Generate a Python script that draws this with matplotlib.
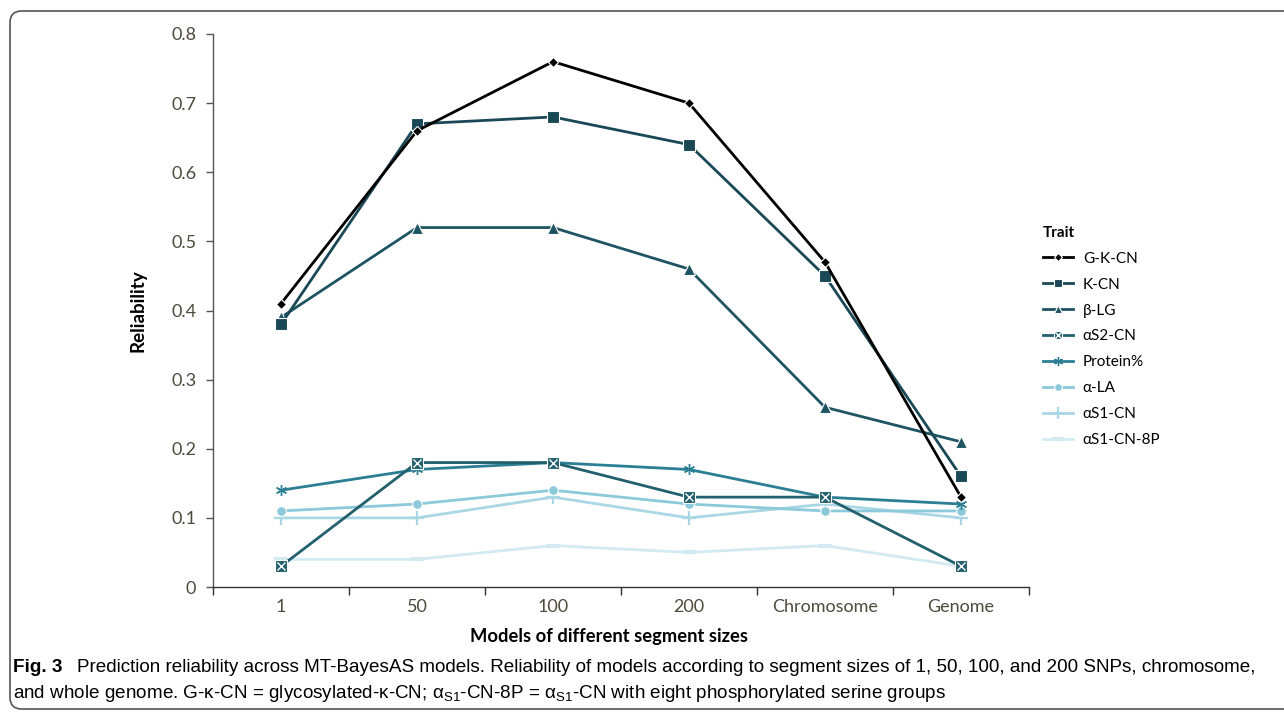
import matplotlib
matplotlib.use("Agg")
import matplotlib.pyplot as plt
from matplotlib.patches import FancyBboxPatch
from matplotlib.legend_handler import HandlerTuple

# Categories on the x axis
MODELS = ["1", "50", "100", "200", "Chromosome", "Genome"]

# Reliability for each trait
G_K_CN = [0.41, 0.66, 0.76, 0.70, 0.47, 0.13]
K_CN = [0.38, 0.67, 0.68, 0.64, 0.45, 0.16]
B_LG = [0.39, 0.52, 0.52, 0.46, 0.26, 0.21]
AS2_CN = [0.03, 0.18, 0.18, 0.13, 0.13, 0.03]
PROTEIN = [0.14, 0.17, 0.18, 0.17, 0.13, 0.12]
A_LA = [0.11, 0.12, 0.14, 0.12, 0.11, 0.11]
AS1_CN = [0.10, 0.10, 0.13, 0.10, 0.12, 0.10]
AS1_CN_8P = [0.04, 0.04, 0.06, 0.05, 0.06, 0.03]

Y_TICKS = [0, 0.1, 0.2, 0.3, 0.4, 0.5, 0.6, 0.7, 0.8]
Y_TICK_LABELS = ["0", "0.1", "0.2", "0.3", "0.4", "0.5", "0.6", "0.7", "0.8"]

TICK_COLOR = "#4f4a3c"
FONT = ["Lato", "DejaVu Sans"]
CAPTION_FONT = ["Liberation Sans", "DejaVu Sans"]

plt.rcParams["font.family"] = FONT

fig = plt.figure(figsize=(12.84, 7.13), dpi=100)
ax = fig.add_axes([213 / 1284, 1 - 587 / 713, (1029 - 213) / 1284, (587 - 34) / 713])

x = list(range(len(MODELS)))
lw = 2.0

line_gk, = ax.plot(x, G_K_CN, color="#000000", lw=lw, marker="D", ms=5.5,
                   mec="white", mew=0.8, zorder=10)
line_k, = ax.plot(x, K_CN, color="#1a4856", lw=lw, marker="s", ms=8,
                  mec="white", mew=0.8, zorder=9)
line_b, = ax.plot(x, B_LG, color="#1f5563", lw=lw, marker="^", ms=8,
                  mec="white", mew=0.8, zorder=8)
line_s2, = ax.plot(x, AS2_CN, color="#22606d", lw=lw, marker="s", ms=8,
                   mec="white", mew=0.8, zorder=7)
cross_s2, = ax.plot(x, AS2_CN, ls="none", marker="x", ms=6, mec="white",
                    mew=1.0, zorder=7.5)
line_p, = ax.plot(x, PROTEIN, color="#2c7e94", lw=lw, marker=(6, 2, 0), ms=8,
                  mec="#2c7e94", mew=1.0, zorder=6)
line_la, = ax.plot(x, A_LA, color="#8cc9da", lw=lw, marker="o", ms=7,
                   mec="white", mew=0.8, zorder=5)
line_s1, = ax.plot(x, AS1_CN, color="#aad7e5", lw=lw, marker="+", ms=10,
                   mec="#aad7e5", mew=1.6, zorder=4)
line_s1p, = ax.plot(x, AS1_CN_8P, color="#d3eaf2", lw=lw, marker="_", ms=10,
                    mec="#d3eaf2", mew=3.0, zorder=3)

ax.set_xlim(-0.5, len(MODELS) - 0.5)
ax.set_ylim(0, 0.8)
ax.set_yticks(Y_TICKS)
ax.set_yticklabels(Y_TICK_LABELS)

# boundary ticks between categories, labels at the category centres
ax.set_xticks([i - 0.5 for i in range(len(MODELS) + 1)])
ax.set_xticklabels([])
ax.set_xticks(x, minor=True)
ax.set_xticklabels(MODELS, minor=True)
ax.tick_params(axis="x", which="minor", length=0, pad=9)
ax.tick_params(axis="x", which="major", length=6, width=1.0, color="#333333")
ax.tick_params(axis="y", length=5, width=1.0, color="#555555", pad=7)
ax.tick_params(axis="both", which="both", labelsize=13, labelcolor=TICK_COLOR)

for side in ["top", "right"]:
    ax.spines[side].set_visible(False)
ax.spines["left"].set_color("#555555")
ax.spines["bottom"].set_color("#333333")
ax.spines["left"].set_linewidth(1.0)
ax.spines["bottom"].set_linewidth(1.0)

ax.set_ylabel("Reliability", fontsize=13.5, fontweight="bold", labelpad=18)
ax.set_xlabel("Models of different segment sizes", fontsize=13.2,
              fontweight="bold", labelpad=9)
ax.xaxis.set_label_coords(0.485, -0.075)

handles = [line_gk, line_k, line_b, (line_s2, cross_s2), line_p, line_la,
           line_s1, line_s1p]
labels = ["G-K-CN", "K-CN", "β-LG", "αS2-CN", "Protein%", "α-LA", "αS1-CN",
          "αS1-CN-8P"]
leg = ax.legend(handles, labels, title="Trait", loc="upper left",
                bbox_to_anchor=(1.0, 0.678), frameon=False, fontsize=11,
                title_fontproperties={"weight": "bold", "size": 11},
                handlelength=2.0, handletextpad=0.62, labelspacing=0.78,
                handler_map={tuple: HandlerTuple(ndivide=1, pad=0)})
leg._legend_box.align = "left"
for h in leg.legend_handles:
    try:
        h.set_markersize(h.get_markersize() * 0.8)
    except AttributeError:
        pass

# rounded frame around the figure panel
frame = FancyBboxPatch((10 / 1284, 1 - 709 / 713), 1400 / 1284, (709 - 11) / 713,
                       boxstyle="round,pad=0,rounding_size=0.009",
                       transform=fig.transFigure, fill=False,
                       edgecolor="#555555", lw=1.2, clip_on=False,
                       mutation_aspect=1284 / 713)
fig.patches.append(frame)

# caption
fig.text(13 / 1284, 1 - 667 / 713, "Fig. 3", fontsize=13.6, fontweight="bold",
         family=CAPTION_FONT, va="center", ha="left")
fig.text(77 / 1284, 1 - 667 / 713,
         "Prediction reliability across MT-BayesAS models. Reliability of models "
         "according to segment sizes of 1, 50, 100, and 200 SNPs, chromosome,",
         fontsize=13.6, family=CAPTION_FONT, va="center", ha="left")
fig.text(13 / 1284, 1 - 694 / 713,
         r"and whole genome. G-κ-CN = glycosylated-κ-CN; α$_{\mathregular{S1}}$-CN-8P = "
         r"α$_{\mathregular{S1}}$-CN with eight phosphorylated serine groups",
         fontsize=13.6, family=CAPTION_FONT, va="center", ha="left")

fig.savefig("out.png", dpi=100)
